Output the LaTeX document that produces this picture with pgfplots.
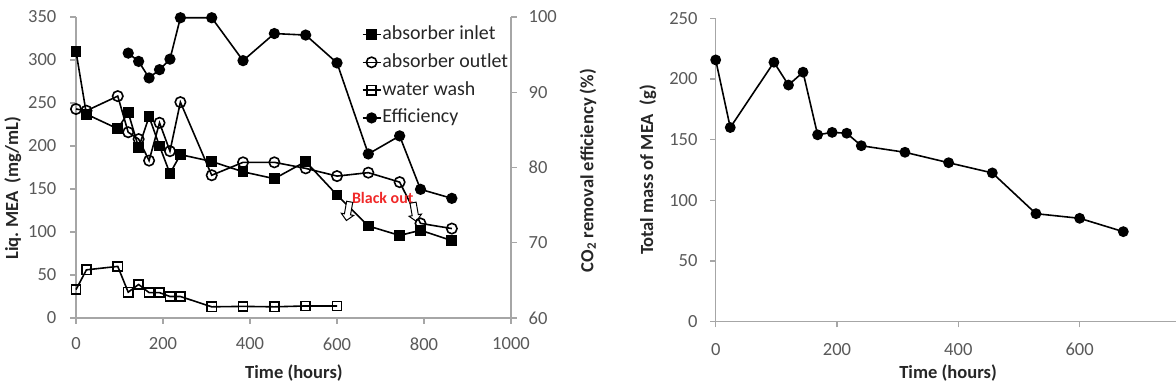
\documentclass[border=0pt]{standalone}
\usepackage{fontspec}
\setmainfont{Carlito}
\usepackage{pgfplots}
\usepackage{pgfplotstable}
\pgfplotsset{compat=1.18}
\usetikzlibrary{shapes.arrows}

\definecolor{axisgray}{HTML}{A6A6A6}
\definecolor{ticktext}{HTML}{595959}
\definecolor{labeltext}{HTML}{262626}
\definecolor{blackout}{HTML}{F02828}

% MEA concentration in the liquid (mg/mL)
\pgfplotstableread{
t    inlet  outlet
0    310    243
24   237    241
96   220    258
120  239    216
144  198    208
168  234    183
192  200    227
216  168    194
240  190    251
312  182    166
384  170    181
456  162    181
528  182    174
600  143    165
672  107    169
744  96     158
792  102    110
864  90     104
}\liquid

\pgfplotstableread{
t    wash
0    33
24   56
96   60
120  30
144  39
168  29.5
192  29.5
216  25
240  25
312  13
384  13.5
456  13
528  14
600  14
}\wash

% CO2 removal efficiency (%)
\pgfplotstableread{
t    eff
120  95.2
144  94.1
168  91.9
192  93.0
216  94.4
240  99.9
312  99.9
384  94.2
456  97.8
528  97.6
600  93.9
672  81.8
744  84.2
792  77.1
864  75.9
}\efficiency

% total MEA inventory (g)
\pgfplotstableread{
t    mass
0    215.7
24   160
96   213.8
120  195
144  205.6
168  154
192  156
216  155.3
240  145
312  139.6
384  131
456  122.6
528  89
600  85.2
672  74.2
}\totalmass

\pgfplotsset{
  excel/.style={
    scale only axis,
    clip=false,
    axis line style={axisgray, line width=0.7bp, -},
    tick style={axisgray, line width=0.7bp},
    tick align=outside,
    major tick length=2.8bp,
    minor tick num=0,
    tick label style={font=\fontsize{9.3}{11}\selectfont, text=ticktext},
    label style={font=\bfseries\fontsize{9.3}{11}\selectfont, text=labeltext},
    /pgf/number format/assume math mode=true,
    /pgf/number format/1000 sep={},
  },
  series/.style={black, line width=0.8bp},
  inletstyle/.style={series, mark=square*, mark size=2.3bp, mark options={solid, fill=black}},
  outletstyle/.style={series, mark=o, mark size=2.6bp, mark options={solid, fill=white}},
  washstyle/.style={series, mark=square, mark size=2.3bp, mark options={solid, fill=white}},
  effstyle/.style={series, mark=*, mark size=2.4bp, mark options={solid, fill=black}},
}

\begin{document}
\begin{tikzpicture}

% ---- left panel: liquid MEA concentration ----
\begin{axis}[
  excel,
  at={(38bp,34bp)}, anchor=south west,
  width=217.5bp, height=150.5bp,
  xmin=0, xmax=1000, ymin=0, ymax=350,
  xtick={0,200,...,1000}, ytick={0,50,...,350},
  axis x line*=bottom, axis y line*=left,
  xticklabel style={yshift=-3.6bp},
  yticklabel style={xshift=-3.5bp},
  xlabel={Time (hours)},
  ylabel={Liq.\ MEA\ \ (mg/mL)},
  xlabel style={at={(axis description cs:0.501,-0.183)}, anchor=center},
  ylabel style={at={(axis description cs:-0.145,0.432)}, anchor=center},
]
\addplot[outletstyle] table[x=t, y=outlet] {\liquid};
\addplot[inletstyle] table[x=t, y=inlet] {\liquid};
\addplot[washstyle] table[x=t, y=wash] {\wash};

\node[font=\bfseries\fontsize{8}{9}\selectfont, text=blackout, inner sep=0pt]
  at (axis cs:705,140) {Black out};
\node[single arrow, draw=black, fill=white, line width=0.5bp,
      minimum height=9.5bp, minimum width=6bp, single arrow head extend=1.6bp,
      inner sep=1.3bp, rotate=-100] at (axis cs:626,126) {};
\node[single arrow, draw=black, fill=white, line width=0.5bp,
      minimum height=9.5bp, minimum width=6bp, single arrow head extend=1.6bp,
      inner sep=1.3bp, rotate=-80] at (axis cs:778,125) {};
\end{axis}

% ---- left panel: secondary axis for CO2 removal efficiency ----
\begin{axis}[
  excel,
  at={(38bp,34bp)}, anchor=south west,
  width=217.5bp, height=150.5bp,
  xmin=0, xmax=1000, ymin=60, ymax=100,
  ytick={60,70,...,100},
  axis x line=none, axis y line*=right,
  yticklabel style={xshift=2.5bp},
  ylabel={CO\textsubscript{2} removal efficiency (\%)},
  ylabel style={at={(axis description cs:1.177,0.49)}, anchor=center, rotate=0},
  legend cell align=left,
  legend image code/.code={
    \draw[mark repeat=2, mark phase=2, #1]
      plot coordinates {(0bp,0bp) (4.5bp,0bp) (9bp,0bp)};
  },
  legend style={
    at={(axis description cs:0.657,0.975)}, anchor=north west,
    draw=none, fill=none, inner sep=0pt, outer sep=0pt,
    row sep=3.9bp, column sep=0bp,
    font=\fontsize{10}{12}\selectfont, text=labeltext,
    nodes={inner sep=0.5bp, text height=7bp, text depth=2bp},
  },
]
\addlegendimage{inletstyle}
\addlegendimage{outletstyle}
\addlegendimage{washstyle}
\addplot[effstyle] table[x=t, y=eff] {\efficiency};
\legend{absorber inlet, absorber outlet, water wash, Efficiency}
\end{axis}

% ---- right panel: total MEA inventory ----
\begin{axis}[
  excel,
  at={(357.85bp,32.15bp)}, anchor=south west,
  width=230.5bp, height=151.7bp,
  xmin=0, xmax=760, ymin=0, ymax=250,
  xtick={0,200,400,600}, ytick={0,50,...,250},
  axis x line*=bottom, axis y line*=left,
  xticklabel style={yshift=-4.5bp},
  yticklabel style={xshift=-2.8bp},
  xlabel={Time (hours)},
  ylabel={Total mass of MEA\ \ (g)},
  xlabel style={at={(axis description cs:0.504,-0.169)}, anchor=center},
  ylabel style={at={(axis description cs:-0.147,0.5)}, anchor=center},
]
\addplot[series, mark=*, mark size=2.3bp] table[x=t, y=mass] {\totalmass};
\end{axis}

\pgfresetboundingbox
\path[use as bounding box] (0bp,0bp) rectangle (588bp,193bp);
\end{tikzpicture}
\end{document}
